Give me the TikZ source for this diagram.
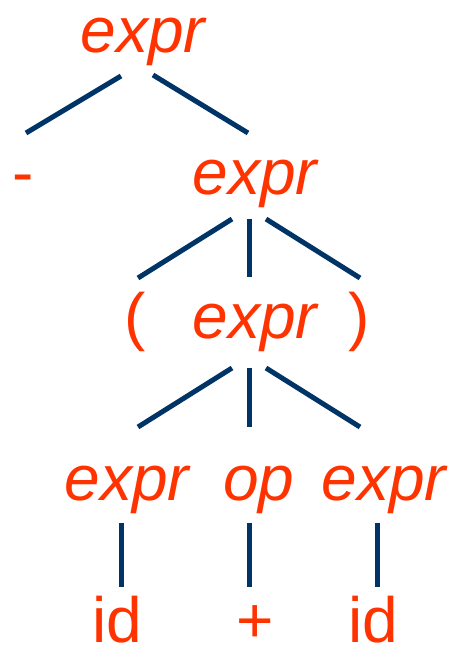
\documentclass[tikz,border=0pt]{standalone}
\usepackage{fontspec}
\setmainfont{Liberation Sans}
\usetikzlibrary{positioning}
\definecolor{symred}{HTML}{FF3300}
\definecolor{branchblue}{HTML}{003366}

\begin{document}
\begin{tikzpicture}[
    x=1pt, y=-1pt,
    every node/.style={font=\fontsize{64}{70}\selectfont, text=symred, inner sep=0pt, anchor=base},
    nonterm/.style={font=\fontsize{64}{70}\selectfont\itshape},
    branch/.style={draw=branchblue, line width=5pt}
]
\useasboundingbox (0,0) rectangle (450,645);
\node[nonterm] (root) at (143,52) {expr};
\node (minus) at (23,194) {-};
\node[nonterm] (inner) at (255,194) {expr};
\node (lpar) at (135,338) {(};
\node[nonterm] (paren) at (255,338) {expr};
\node (rpar) at (359,338) {)};
\node[nonterm] (left) at (127,500) {expr};
\node[nonterm] (op) at (259,500) {op};
\node[nonterm] (right) at (384,500) {expr};
\node (idl) at (117,642) {id};
\node (plus) at (255,642) {+};
\node (idr) at (373,642) {id};
\draw[branch] ([shift={(-22,24)}]root.base) -- ([shift={(3,-61)}]minus.base);
\draw[branch] ([shift={(10,23)}]root.base) -- ([shift={(-7,-61)}]inner.base);
\draw[branch] ([shift={(-23,25)}]inner.base) -- ([shift={(3,-60)}]lpar.base);
\draw[branch] ([shift={(-6,25)}]inner.base) -- ([shift={(-6,-61)}]paren.base);
\draw[branch] ([shift={(11,25)}]inner.base) -- ([shift={(1,-60)}]rpar.base);
\draw[branch] ([shift={(-23,30)}]paren.base) -- ([shift={(11,-73)}]left.base);
\draw[branch] ([shift={(-6,30)}]paren.base) -- ([shift={(-10,-73)}]op.base);
\draw[branch] ([shift={(11,30)}]paren.base) -- ([shift={(-24,-73)}]right.base);
\draw[branch] ([shift={(-6,23)}]left.base) -- ([shift={(4,-55)}]idl.base);
\draw[branch] ([shift={(-10,23)}]op.base) -- ([shift={(-6,-55)}]plus.base);
\draw[branch] ([shift={(-7,23)}]right.base) -- ([shift={(4,-55)}]idr.base);
\end{tikzpicture}
\end{document}
